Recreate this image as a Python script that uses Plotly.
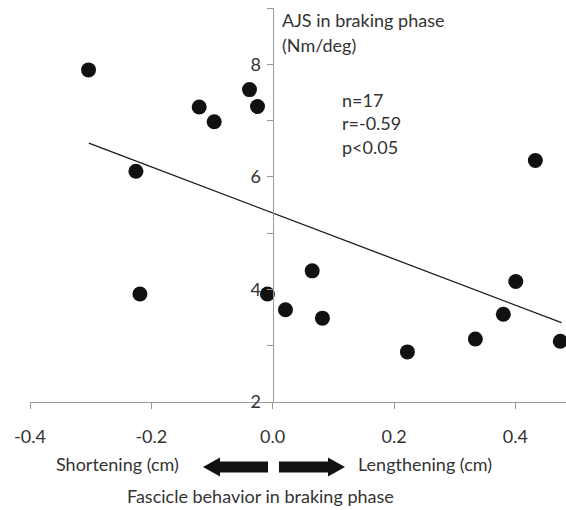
import plotly.graph_objects as go

# Data
fascicle_cm = [-0.3035, -0.2254, -0.2188, -0.1211, -0.0964, -0.0382, -0.0250, -0.0086,
               0.0211, 0.0651, 0.0820, 0.2221, 0.3341, 0.3802, 0.4007, 0.4330, 0.4741]
ajs = [7.90, 6.10, 3.92, 7.24, 6.98, 7.55, 7.25, 3.92,
       3.64, 4.33, 3.49, 2.89, 3.12, 3.56, 4.14, 6.29, 3.08]
trend_x = [-0.303, 0.476]
trend_y = [6.60, 3.41]
x_tick_vals = [-0.4, -0.2, 0.0, 0.2, 0.4]
x_tick_text = ["-0.4", "-0.2", "0.0", "0.2", "0.4"]
y_tick_vals = [2, 3, 4, 5, 6, 7, 8, 9]
y_tick_text = ["2", "", "4", "", "6", "", "8", ""]
stats_lines = ["n=17", "r=-0.59", "p<0.05"]

W, H = 566, 510
ML, MR, MT, MB = 30, 0, 8, 108
PW, PH = W - ML - MR, H - MT - MB
XR = [-0.4, 0.4835]
YR = [2, 9]

def px(x):
    return (x - ML) / PW

def py(y):
    return (H - MB - y) / PH

FONT = "Lato, Carlito, Calibri, sans-serif"
FS = 18
TXT = "#333333"
AX = "#9a9a9a"

fig = go.Figure()
fig.add_trace(go.Scatter(x=trend_x, y=trend_y, mode="lines",
                         line=dict(color="#1a1a1a", width=1.3),
                         showlegend=False, hoverinfo="skip", cliponaxis=False))
fig.add_trace(go.Scatter(x=fascicle_cm, y=ajs, mode="markers",
                         marker=dict(size=15, color="#111111"),
                         showlegend=False, cliponaxis=False))

annotations = []
def txt(text, x, y, xanchor="left", size=FS):
    annotations.append(dict(text=text, x=px(x), y=py(y), xref="paper", yref="paper",
                            xanchor=xanchor, yanchor="middle", showarrow=False,
                            font=dict(family=FONT, size=size, color=TXT)))

txt("AJS in braking phase", 280, 20)
txt("(Nm/deg)", 280, 45)
for i, s in enumerate(stats_lines):
    txt(s, 340, 100 + i * 23.5)
txt("Shortening (cm)", 117.5, 464, "center")
txt("Lengthening (cm)", 425, 464, "center")
txt("Fascicle behavior in braking phase", 260, 496, "center")

def poly(pts):
    d = "M " + " L ".join(f"{px(a):.5f},{py(b):.5f}" for a, b in pts) + " Z"
    return dict(type="path", path=d, xref="paper", yref="paper",
                fillcolor="#111111", line=dict(width=0))

cy = 467
left_arrow = [(203, cy), (220, cy - 9.5), (220, cy - 5.5), (268, cy - 5.5),
              (268, cy + 5.5), (220, cy + 5.5), (220, cy + 9.5)]
right_arrow = [(345, cy), (328, cy - 9.5), (328, cy - 5.5), (279, cy - 5.5),
               (279, cy + 5.5), (328, cy + 5.5), (328, cy + 9.5)]

y_pos = (0 - XR[0]) / (XR[1] - XR[0])

fig.update_layout(
    width=W, height=H,
    margin=dict(l=ML, r=MR, t=MT, b=MB),
    paper_bgcolor="white", plot_bgcolor="white",
    font=dict(family=FONT, size=FS, color=TXT),
    xaxis=dict(range=XR, showgrid=False, zeroline=False, showline=True,
               linecolor=AX, linewidth=1.3, ticks="outside", ticklen=6,
               tickcolor=AX, tickvals=x_tick_vals, ticktext=x_tick_text,
               ticklabelstandoff=12, tickfont=dict(family=FONT, size=FS, color=TXT),
               fixedrange=True),
    yaxis=dict(range=YR, showgrid=False, zeroline=False, showline=True,
               linecolor=AX, linewidth=1.3, ticks="outside", ticklen=6,
               tickcolor=AX, tickvals=y_tick_vals, ticktext=y_tick_text,
               anchor="free", position=y_pos, ticklabelstandoff=2,
               tickfont=dict(family=FONT, size=FS, color=TXT), fixedrange=True),
    annotations=annotations,
    shapes=[poly(left_arrow), poly(right_arrow)],
)

fig.write_html("out.html")
